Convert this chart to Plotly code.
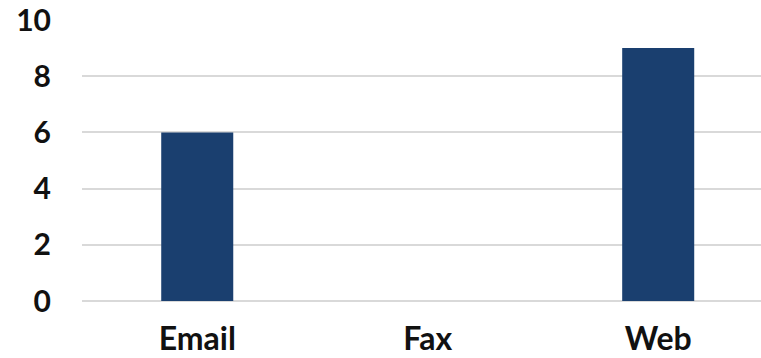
import plotly.graph_objects as go

categories = ["Email", "Fax", "Web"]
values = [6, 0, 9]
y_ticks = [0, 2, 4, 6, 8, 10]

fig = go.Figure(go.Bar(
    x=categories, y=values,
    marker=dict(color="#1a3f6f", line=dict(width=0)),
    width=0.3125,
))

tf = dict(family="Lato", size=30, color="#111111", weight="bold")
tfx = dict(family="Lato", size=32, color="#111111", weight="bold")
fig.update_layout(
    width=761, height=358,
    margin=dict(l=82, r=0, t=20, b=57),
    paper_bgcolor="white", plot_bgcolor="white",
    font=tf,
    showlegend=False,
)
fig.update_xaxes(
    range=[-0.5, 2.446], showgrid=False, showline=False, ticks="",
    ticklabelstandoff=16, tickfont=tfx, automargin=False,
)
fig.update_yaxes(
    range=[0, 10], tickvals=y_ticks, showgrid=True, gridcolor="#d9d9d9", gridwidth=1.5,
    zeroline=True, zerolinecolor="#d9d9d9", zerolinewidth=1.5,
    showline=False, ticks="", ticklabelstandoff=30, tickfont=tf, automargin=False,
)

fig.write_html("out.html")
